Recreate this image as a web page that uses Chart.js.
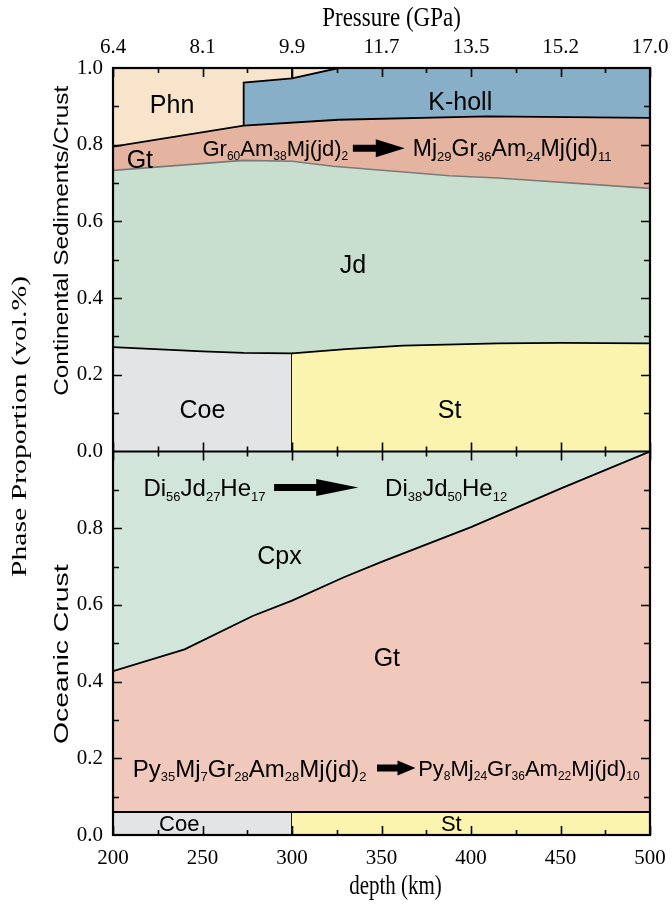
<!DOCTYPE html>
<html>
<head>
<meta charset="utf-8">
<title>Phase proportions vs depth</title>
<script src="https://cdn.jsdelivr.net/npm/chart.js@4.4.1/dist/chart.umd.min.js"></script>
<style>
  html, body { margin: 0; padding: 0; background: #fff; }
  #wrap { width: 672px; height: 915px; }
</style>
</head>
<body>
<div id="wrap"><canvas id="phaseChart" width="672" height="915"></canvas></div>
<script>
// depth axis (km) and the matching pressure labels (GPa) on the top axis
const depthTicks = [200, 250, 300, 350, 400, 450, 500];
const pressureTicks = ['6.4', '8.1', '9.9', '11.7', '13.5', '15.2', '17.0'];

// continental sediments / crust: upper edge of each phase field as [depth, fraction]
const phnTop = [[200, 1.0], [327, 1.0]];
const khollTop = [[273, 0.85], [273, 0.962], [300, 0.973], [326, 1.0], [500, 1.0]];
const phnStep = [[300, 0.973], [300, 1.0]];
const gtTopCont = [[200, 0.795], [273, 0.85], [326, 0.865], [409, 0.874], [500, 0.870]];
const jdTop = [[200, 0.733], [273, 0.759], [300, 0.757], [323, 0.744], [388, 0.719], [415, 0.713], [500, 0.686]];
const coeTopCont = [[200, 0.272], [250, 0.261], [273, 0.257], [300, 0.256], [300, 0]];
const stTopCont = [[300, 0.256], [330, 0.267], [362, 0.276], [415, 0.282], [450, 0.283], [500, 0.282]];

// oceanic crust
const cpxTop = [[200, 1.0], [500, 1.0]];
const gtTopOcean = [[200, 0.427], [240, 0.484], [278, 0.571], [300, 0.611], [329, 0.672], [350, 0.712], [400, 0.803], [450, 0.903], [500, 1.0]];
const coeTopOcean = [[200, 0.06], [300, 0.06], [300, 0]];
const stTopOcean = [[300, 0.06], [500, 0.06]];

const SERIF = "'Liberation Serif', 'Times New Roman', serif";
const SANS = "'Liberation Sans', Arial, sans-serif";

function field(label, pts, axis, fill, line, width) {
    return {
        label: label,
        data: pts.map(([x, y]) => ({ x: x, y: y })),
        yAxisID: axis,
        backgroundColor: fill || 'transparent',
        borderColor: line || 'transparent',
        borderWidth: line ? (width || 1.8) : 0,
        fill: fill ? 'origin' : false,
        pointRadius: 0,
        tension: 0,
    };
}

// listed from the back layer to the front one
const layers = [
    field('Phn', phnTop, 'yTop', '#f8e4cb'),
    field('K-holl', khollTop, 'yTop', '#87afc8', '#000'),
    field('Gt', gtTopCont, 'yTop', '#e5b4a0', '#000'),
    field('Jd', jdTop, 'yTop', '#c8dfd0', '#7a7a7a', 1.6),
    field('Coe', coeTopCont, 'yTop', '#e3e4e6', '#000'),
    field('St', stTopCont, 'yTop', '#faf4ae', '#000'),
    field('Phn edge', phnStep, 'yTop', null, '#000'),
    field('Cpx', cpxTop, 'yBot', '#d2e5da'),
    field('Gt', gtTopOcean, 'yBot', '#f0c9bc', '#000'),
    field('Coe', coeTopOcean, 'yBot', '#e3e4e6', '#000'),
    field('St', stTopOcean, 'yBot', '#faf4ae', '#000'),
];
layers.forEach((ds, i) => { ds.order = layers.length - i; });

// labels inside the fields, placed in data units
const notes = [
    { axis: 'yTop', x: 233, y: 0.906, text: 'Phn', size: 25, align: 'center' },
    { axis: 'yTop', x: 394, y: 0.914, text: 'K-holl', size: 25, align: 'center' },
    { axis: 'yTop', x: 215, y: 0.763, text: 'Gt', size: 25, align: 'center' },
    { axis: 'yTop', x: 250, y: 0.791, text: 'Gr_60Am_38Mj(jd)_2', size: 22, align: 'left' },
    { axis: 'yTop', x: 367.5, y: 0.791, text: 'Mj_29Gr_36Am_24Mj(jd)_11', size: 23, align: 'left' },
    { axis: 'yTop', x: 334, y: 0.488, text: 'Jd', size: 25, align: 'center' },
    { axis: 'yTop', x: 250, y: 0.110, text: 'Coe', size: 25, align: 'center' },
    { axis: 'yTop', x: 388, y: 0.110, text: 'St', size: 25, align: 'center' },
    { axis: 'yBot', x: 217, y: 0.906, text: 'Di_56Jd_27He_17', size: 24, align: 'left' },
    { axis: 'yBot', x: 352, y: 0.906, text: 'Di_38Jd_50He_12', size: 24, align: 'left' },
    { axis: 'yBot', x: 293, y: 0.730, text: 'Cpx', size: 25, align: 'center' },
    { axis: 'yBot', x: 353, y: 0.465, text: 'Gt', size: 25, align: 'center' },
    { axis: 'yBot', x: 211, y: 0.175, text: 'Py_35Mj_7Gr_28Am_28Mj(jd)_2', size: 24, align: 'left' },
    { axis: 'yBot', x: 370.5, y: 0.175, text: 'Py_8Mj_24Gr_36Am_22Mj(jd)_10', size: 22, align: 'left' },
    { axis: 'yBot', x: 237, y: 0.030, text: 'Coe', size: 22, align: 'center' },
    { axis: 'yBot', x: 389, y: 0.030, text: 'St', size: 22, align: 'center' },
];

// composition-change arrows: from/to depth at a fraction, head size in px
const arrows = [
    { axis: 'yTop', from: 334, to: 363, y: 0.791, shaft: 7, headLen: 29, headH: 18 },
    { axis: 'yBot', from: 290, to: 337, y: 0.906, shaft: 7, headLen: 42, headH: 17 },
    { axis: 'yBot', from: 347.5, to: 369, y: 0.175, shaft: 7, headLen: 18, headH: 15 },
];

// rotated side titles: panel axis, text, vertical shift from panel centre, stretch along the text
const sideTitles = [
    { axis: 'yTop', text: 'Continental Sediments/Crust', x: 62, shift: -19, stretch: 1.16 },
    { axis: 'yBot', text: 'Oceanic Crust', x: 62, shift: 11, stretch: 1.35 },
];

function drawFormula(ctx, note, px, py) {
    const parts = note.text.split(/(_\d+)/).filter(s => s.length);
    const subSize = Math.round(note.size * 0.55);
    const pieces = parts.map(p => {
        const sub = p[0] === '_';
        const txt = sub ? p.slice(1) : p;
        ctx.font = (sub ? subSize : note.size) + 'px ' + SANS;
        return { txt: txt, sub: sub, w: ctx.measureText(txt).width };
    });
    const total = pieces.reduce((s, p) => s + p.w, 0);
    let x = note.align === 'center' ? px - total / 2 : px;
    ctx.textAlign = 'left';
    ctx.textBaseline = 'alphabetic';
    const base = py + note.size * 0.36;
    pieces.forEach(p => {
        ctx.font = (p.sub ? subSize : note.size) + 'px ' + SANS;
        ctx.fillText(p.txt, x, p.sub ? base + note.size * 0.2 : base);
        x += p.w;
    });
}

// text centred on (x, y); rot turns it upright, sx/sy stretch the glyphs
function drawText(ctx, text, x, y, font, rot, sx, sy) {
    ctx.save();
    ctx.translate(x, y);
    if (rot) ctx.rotate(-Math.PI / 2);
    ctx.scale(sx, sy);
    ctx.font = font;
    ctx.textAlign = 'center';
    ctx.textBaseline = 'middle';
    ctx.fillText(text, 0, 0);
    ctx.restore();
}

const annotations = {
    id: 'annotations',
    afterDatasetsDraw(chart) {
        const { ctx, scales } = chart;
        ctx.save();
        ctx.fillStyle = '#000';
        notes.forEach(n => {
            drawFormula(ctx, n, scales.x.getPixelForValue(n.x), scales[n.axis].getPixelForValue(n.y));
        });
        arrows.forEach(a => {
            const x1 = scales.x.getPixelForValue(a.from);
            const x2 = scales.x.getPixelForValue(a.to);
            const y = scales[a.axis].getPixelForValue(a.y);
            ctx.beginPath();
            ctx.moveTo(x1, y - a.shaft / 2);
            ctx.lineTo(x2 - a.headLen, y - a.shaft / 2);
            ctx.lineTo(x2 - a.headLen, y - a.headH / 2);
            ctx.lineTo(x2, y);
            ctx.lineTo(x2 - a.headLen, y + a.headH / 2);
            ctx.lineTo(x2 - a.headLen, y + a.shaft / 2);
            ctx.lineTo(x1, y + a.shaft / 2);
            ctx.closePath();
            ctx.fill();
        });
        ctx.restore();
    },
};

// panel frames, inward major/minor ticks and the axis titles
const frame = {
    id: 'frame',
    afterDraw(chart) {
        const { ctx, chartArea: a, scales } = chart;
        const { x, yTop, yBot } = scales;
        const mid = yTop.bottom;
        ctx.save();
        ctx.strokeStyle = '#000';
        ctx.lineWidth = 1.6;
        ctx.beginPath();
        for (let d = x.min; d <= x.max; d += 25) {
            const px = Math.round(x.getPixelForValue(d)) + 0.5;
            const len = (d - x.min) % 50 === 0 ? 9 : 5;
            ctx.moveTo(px, a.top); ctx.lineTo(px, a.top + len);
            ctx.moveTo(px, mid - len); ctx.lineTo(px, mid + len);
            ctx.moveTo(px, a.bottom); ctx.lineTo(px, a.bottom - len);
        }
        [yTop, yBot].forEach(s => {
            for (let k = 1; k < 10; k++) {
                const py = Math.round(s.getPixelForValue(k / 10)) + 0.5;
                const len = k % 2 === 0 ? 9 : 6;
                ctx.moveTo(a.left, py); ctx.lineTo(a.left + len, py);
                ctx.moveTo(a.right, py); ctx.lineTo(a.right - len, py);
            }
        });
        ctx.stroke();
        ctx.lineWidth = 2.2;
        ctx.strokeRect(a.left, a.top, a.right - a.left, a.bottom - a.top);
        ctx.beginPath();
        ctx.moveTo(a.left, mid); ctx.lineTo(a.right, mid);
        ctx.stroke();

        ctx.fillStyle = '#000';
        sideTitles.forEach(t => {
            const s = scales[t.axis];
            drawText(ctx, t.text, t.x, (s.top + s.bottom) / 2 + t.shift, '21px ' + SANS, true, t.stretch, 1);
        });
        // shared y title across both panels
        drawText(ctx, 'Phase Proportion (vol.%)', 20, (a.top + a.bottom) / 2 - 25, '22px ' + SERIF, true, 1.35, 1);
        // x titles sit a little right of the plot centre
        const cx = (a.left + a.right) / 2 + 12;
        drawText(ctx, 'Pressure (GPa)', cx - 2, 19, '23px ' + SERIF, false, 1, 1.15);
        drawText(ctx, 'depth (km)', cx + 2, 887, '21px ' + SERIF, false, 1, 1.3);
        ctx.restore();
    },
};

const tickFont = { family: SERIF, size: 21 };

function yPanel(hideTop) {
    return {
        type: 'linear',
        position: 'left',
        stack: 'panels',
        stackWeight: 1,
        min: 0,
        max: 1,
        grid: { display: false, drawTicks: false },
        border: { display: false },
        ticks: {
            stepSize: 0.2,
            padding: 10,
            color: '#000',
            font: tickFont,
            callback: v => (hideTop && v >= 1) ? '' : v.toFixed(1),
        },
        afterFit: s => { s.width = 83; },
    };
}

// keep the plot edges fixed regardless of the end tick labels
function fixHeight(h) {
    return s => {
        s.height = h;
        s.paddingLeft = 0;
        s.paddingRight = 0;
    };
}

new Chart(document.getElementById('phaseChart'), {
    type: 'line',
    data: { datasets: layers },
    options: {
        responsive: false,
        animation: false,
        devicePixelRatio: 1,
        layout: { padding: { left: 30, right: 22, top: 0, bottom: 0 } },
        plugins: {
            legend: { display: false },
            tooltip: { enabled: false },
        },
        scales: {
            x: {
                type: 'linear',
                position: 'bottom',
                min: 200,
                max: 500,
                grid: { display: false, drawTicks: false },
                border: { display: false },
                ticks: { stepSize: 50, padding: 11, color: '#000', font: tickFont },
                afterFit: fixHeight(80),
            },
            x2: {
                type: 'linear',
                position: 'top',
                min: 200,
                max: 500,
                grid: { display: false, drawTicks: false },
                border: { display: false },
                ticks: {
                    stepSize: 50,
                    padding: 8,
                    color: '#000',
                    font: tickFont,
                    callback: v => pressureTicks[depthTicks.indexOf(v)],
                },
                afterFit: fixHeight(68),
            },
            // stacked panels: the scale listed later is laid out above
            yBot: yPanel(true),
            yTop: yPanel(false),
        },
    },
    plugins: [annotations, frame],
});
</script>
</body>
</html>
